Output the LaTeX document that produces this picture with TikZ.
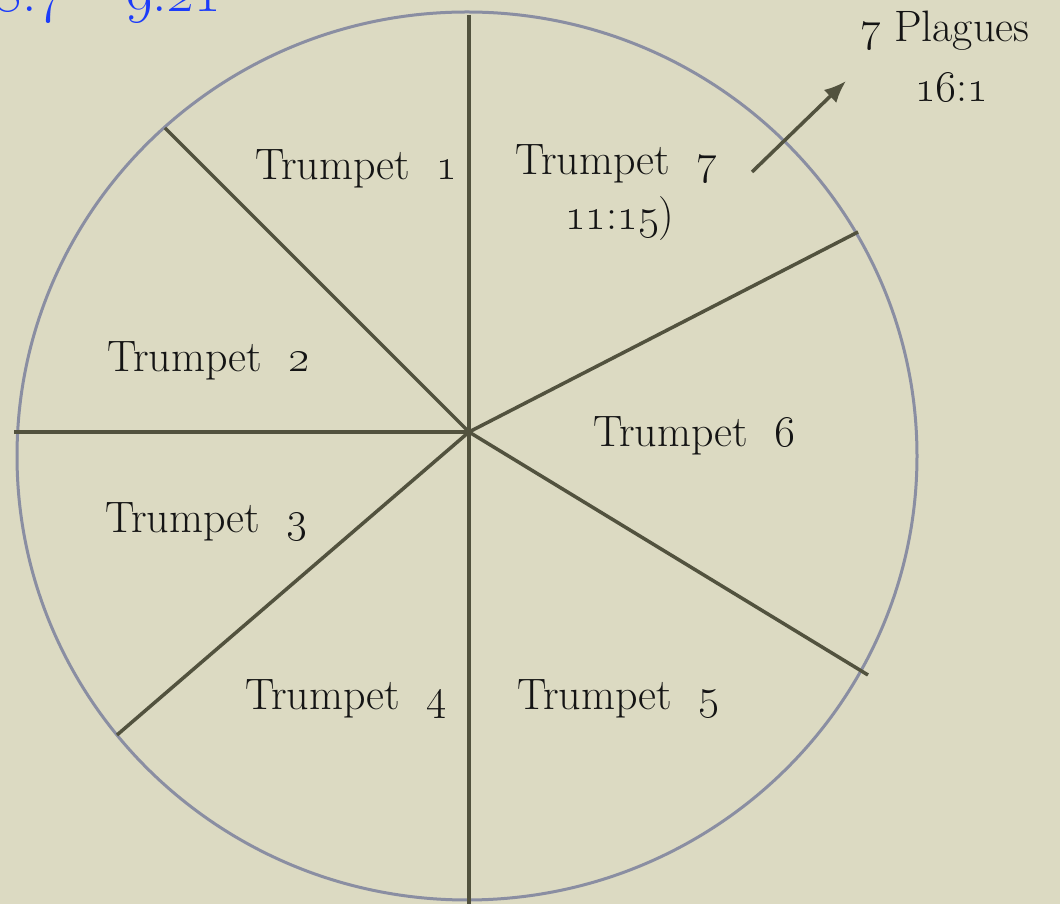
\RequirePackage{fix-cm}
\documentclass[tikz,border=0pt]{standalone}
\usetikzlibrary{arrows.meta}
\definecolor{bg}{RGB}{220,218,194}
\definecolor{rim}{RGB}{138,142,162}
\definecolor{spoke}{RGB}{82,82,62}
\definecolor{ink}{RGB}{20,20,20}
\definecolor{refblue}{RGB}{28,60,250}
\tikzset{
  lbl/.style={anchor=base west, inner sep=0pt, text=ink, font=\fontsize{44}{52}\selectfont},
  spokeline/.style={draw=spoke, line width=3.5pt},
}
\newcommand{\osn}[1]{\oldstylenums{#1}}
\newcommand{\tgap}{\hspace{0.6em}}
\begin{document}
\begin{tikzpicture}[x=1pt,y=1pt]
\useasboundingbox (0,0) rectangle (1060,904);
\clip (0,0) rectangle (1060,904);
\fill[bg] (0,0) rectangle (1060,904);
% rim
\draw[rim, line width=3pt] (467,448) ellipse [x radius=450, y radius=444];
% spokes
\coordinate (hub) at (469,472);
\coordinate (top) at (469,889);
\coordinate (bot) at (469,-5);
\coordinate (left) at (14,472);
\coordinate (ul) at (165,776);
\coordinate (ur) at (858,672);
\coordinate (lr) at (868,229);
\coordinate (ll) at (117,169);
\draw[spokeline] (top) -- (bot);
\draw[spokeline] (left) -- (hub);
\draw[spokeline] (ul) -- (hub);
\draw[spokeline] (ur) -- (hub);
\draw[spokeline] (lr) -- (hub);
\draw[spokeline] (ll) -- (hub);
% labels
\node[lbl] (t1) at (255,724) {Trumpet\tgap\osn{1}};
\node[lbl] (t7) at (515,729) {Trumpet\tgap\osn{7}};
\node[lbl] (t7b) at (565,674) {\osn{11}:\osn{15})};
\node[lbl] (t2) at (107,532) {Trumpet\tgap\osn{2}};
\node[lbl] (t6) at (593,457) {Trumpet\tgap\osn{6}};
\node[lbl] (t3) at (105,371) {Trumpet\tgap\osn{3}};
\node[lbl] (t4) at (245,194) {Trumpet\tgap\osn{4}};
\node[lbl] (t5) at (517,194) {Trumpet\tgap\osn{5}};
\node[lbl] (pl) at (860,862) {\osn{7} Plagues};
\node[lbl] (pl2) at (915,802) {\osn{16}:\osn{1}};
\node[anchor=base east, inner sep=0pt, text=refblue, font=\fontsize{58}{66}\selectfont] (blue) at (222,892) {\osn{8}:\osn{7} -- \osn{9}:\osn{21}};
% arrow
\coordinate (a0) at (752,732);
\coordinate (a1) at (846,823);
\draw[spoke, line width=3.5pt, -{Latex[length=22pt,width=18pt]}] (a0) -- (a1);
\end{tikzpicture}
\end{document}
